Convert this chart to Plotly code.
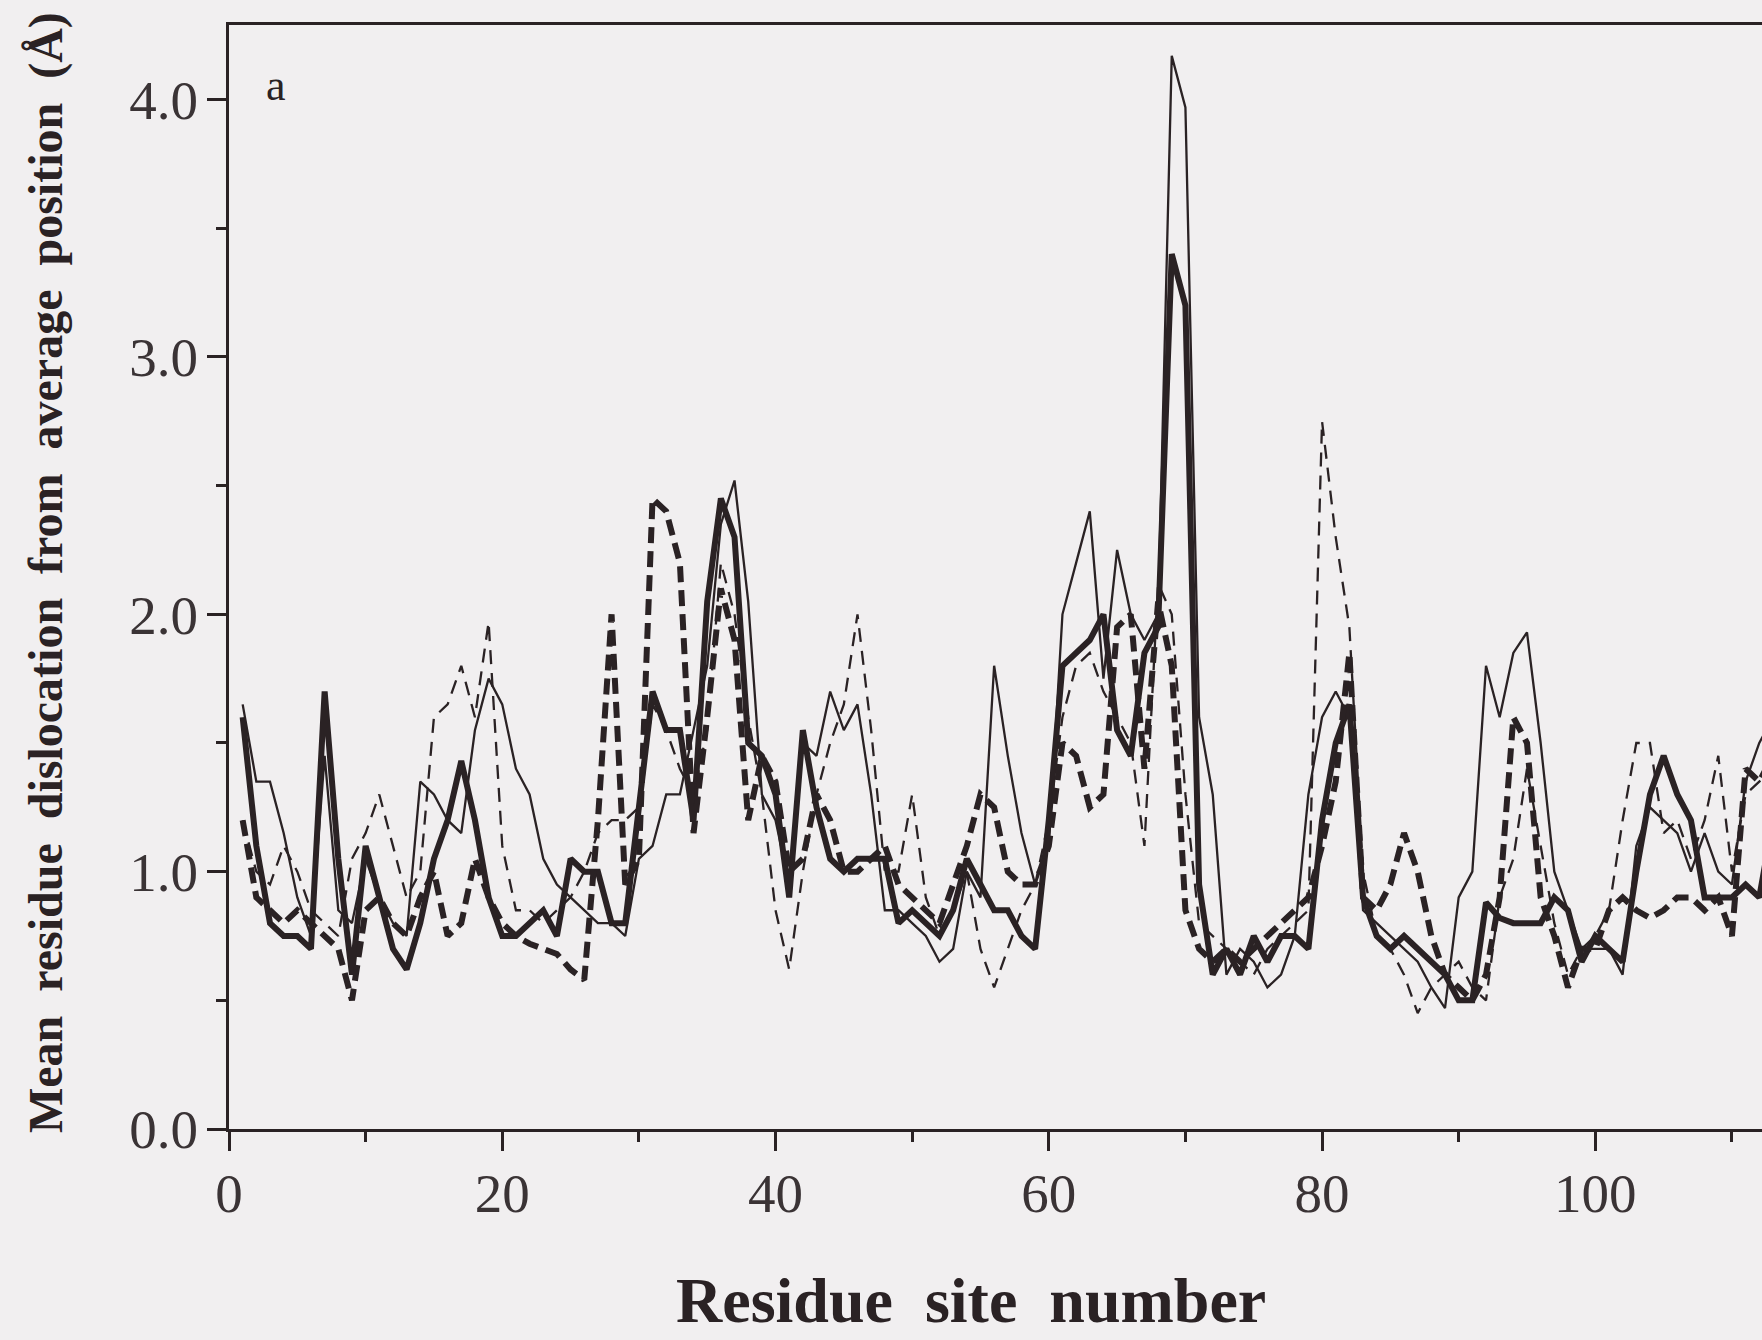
import plotly.graph_objects as go

residues = list(range(1, 114))

thin_solid = [
    1.65, 1.35, 1.35, 1.15, 0.90, 0.75, 1.45, 0.85, 0.80, 1.05,
    0.90, 0.80, 0.75, 1.35, 1.30, 1.20, 1.15, 1.55, 1.75, 1.65,
    1.40, 1.30, 1.05, 0.95, 0.90, 0.85, 0.80, 0.80, 0.75, 1.05,
    1.10, 1.30, 1.30, 1.55, 1.80, 2.35, 2.52, 2.05, 1.30, 1.20,
    0.95, 1.50, 1.45, 1.70, 1.55, 1.65, 1.30, 0.85, 0.85, 0.80,
    0.75, 0.65, 0.70, 1.00, 0.90, 1.80, 1.45, 1.15, 0.95, 1.10,
    2.00, 2.20, 2.40, 1.75, 2.25, 2.00, 1.90, 2.00, 4.17, 3.97,
    1.60, 1.30, 0.60, 0.70, 0.65, 0.55, 0.60, 0.75, 1.30, 1.60,
    1.70, 1.60, 0.85, 0.80, 0.75, 0.70, 0.65, 0.55, 0.47, 0.90,
    1.00, 1.80, 1.60, 1.85, 1.93, 1.50, 1.00, 0.85, 0.70, 0.70,
    0.70, 0.60, 1.10, 1.25, 1.20, 1.15, 1.00, 1.15, 1.00, 0.95,
    1.35, 1.50, 1.60,
]

thick_solid = [
    1.60, 1.10, 0.80, 0.75, 0.75, 0.70, 1.70, 1.05, 0.60, 1.10,
    0.90, 0.70, 0.62, 0.80, 1.05, 1.20, 1.43, 1.20, 0.90, 0.75,
    0.75, 0.80, 0.85, 0.75, 1.05, 1.00, 1.00, 0.80, 0.80, 1.25,
    1.70, 1.55, 1.55, 1.20, 2.05, 2.45, 2.30, 1.50, 1.45, 1.30,
    0.90, 1.55, 1.25, 1.05, 1.00, 1.05, 1.05, 1.05, 0.80, 0.85,
    0.80, 0.75, 0.85, 1.05, 0.95, 0.85, 0.85, 0.75, 0.70, 1.20,
    1.80, 1.85, 1.90, 2.00, 1.55, 1.45, 1.85, 1.95, 3.40, 3.20,
    0.95, 0.60, 0.70, 0.60, 0.75, 0.65, 0.75, 0.75, 0.70, 1.20,
    1.50, 1.65, 0.90, 0.75, 0.70, 0.75, 0.70, 0.65, 0.60, 0.50,
    0.50, 0.88, 0.82, 0.80, 0.80, 0.80, 0.90, 0.85, 0.65, 0.75,
    0.70, 0.65, 1.00, 1.30, 1.45, 1.30, 1.20, 0.90, 0.90, 0.90,
    0.95, 0.90, 1.20,
]

thin_dashed = [
    1.20, 1.00, 0.95, 1.10, 1.00, 0.85, 0.80, 0.75, 1.05, 1.15,
    1.30, 1.10, 0.90, 1.00, 1.60, 1.65, 1.80, 1.60, 1.97, 1.10,
    0.85, 0.85, 0.80, 0.85, 0.90, 1.00, 1.15, 1.20, 1.20, 1.25,
    1.65, 1.55, 1.40, 1.30, 1.55, 2.20, 2.00, 1.60, 1.30, 0.85,
    0.62, 1.00, 1.30, 1.50, 1.65, 2.00, 1.55, 1.00, 1.00, 1.30,
    0.90, 0.75, 0.85, 1.00, 0.70, 0.55, 0.70, 0.85, 0.95, 1.20,
    1.60, 1.80, 1.85, 1.70, 1.60, 1.50, 1.10, 2.12, 2.00, 1.30,
    0.80, 0.75, 0.70, 0.65, 0.60, 0.70, 0.75, 0.80, 0.85, 2.75,
    2.30, 1.95, 1.00, 0.75, 0.70, 0.60, 0.45, 0.55, 0.60, 0.65,
    0.55, 0.50, 0.90, 1.05, 1.40, 1.10, 0.80, 0.60, 0.70, 0.75,
    0.85, 1.20, 1.50, 1.50, 1.15, 1.20, 1.05, 1.20, 1.45, 1.00,
    1.30, 1.35, 1.40,
]

thick_dashed = [
    1.20, 0.90, 0.85, 0.80, 0.85, 0.80, 0.75, 0.70, 0.50, 0.85,
    0.90, 0.80, 0.75, 0.90, 1.00, 0.75, 0.80, 1.05, 0.90, 0.80,
    0.75, 0.72, 0.70, 0.68, 0.62, 0.58, 1.20, 2.00, 0.95, 1.05,
    2.45, 2.40, 2.20, 1.15, 1.60, 2.10, 1.90, 1.20, 1.45, 1.35,
    1.00, 1.05, 1.30, 1.20, 1.00, 1.00, 1.05, 1.10, 0.95, 0.90,
    0.85, 0.80, 0.95, 1.10, 1.30, 1.25, 1.00, 0.95, 0.95, 1.10,
    1.50, 1.45, 1.25, 1.30, 1.95, 2.00, 1.40, 2.05, 1.80, 0.85,
    0.70, 0.65, 0.70, 0.65, 0.70, 0.75, 0.80, 0.85, 0.90, 1.10,
    1.35, 1.85, 0.90, 0.85, 0.95, 1.15, 1.00, 0.75, 0.60, 0.55,
    0.50, 0.60, 0.90, 1.60, 1.50, 0.90, 0.75, 0.55, 0.70, 0.70,
    0.85, 0.90, 0.85, 0.82, 0.85, 0.90, 0.90, 0.85, 0.90, 0.75,
    1.40, 1.35, 1.45,
]

x_tickvals = [0, 20, 40, 60, 80, 100]
x_ticktext = ["0", "20", "40", "60", "80", "100"]
y_tickvals = [0.0, 1.0, 2.0, 3.0, 4.0]
y_ticktext = ["0.0", "1.0", "2.0", "3.0", "4.0"]

INK = "#2a2224"
BG = "#f1eff0"
SERIF = "Liberation Serif, Times New Roman, serif"

fig = go.Figure()
series = [
    (thin_solid, 2.3, "solid"),
    (thick_solid, 6.0, "solid"),
    (thin_dashed, 2.3, "14px,9px"),
    (thick_dashed, 6.0, "16px,8px"),
]
for vals, w, dash in series:
    fig.add_trace(go.Scatter(
        x=residues, y=vals, mode="lines",
        line=dict(color=INK, width=w, dash=dash),
        showlegend=False, cliponaxis=True,
    ))

L, T, R, B = 229, 25, 0, 211
W, H = 1762, 1340
pw, ph = W - L - R, H - T - B

axis_common = dict(
    showline=True, linecolor=INK, linewidth=3,
    ticks="outside", ticklen=19, tickwidth=2.5, tickcolor=INK,
    showgrid=False, zeroline=False,
    tickfont=dict(family=SERIF, size=55, color="#3a3335"),
)

fig.update_xaxes(
    range=[0, 112.2], tickvals=x_tickvals, ticktext=x_ticktext,
    mirror=True,
    minor=dict(ticks="outside", ticklen=10, tickwidth=2.5, tickcolor=INK, dtick=10, tick0=0),
    ticklabelstandoff=-5,
    **axis_common,
)
fig.update_yaxes(
    range=[0, 4.29], tickvals=y_tickvals, ticktext=y_ticktext,
    minor=dict(ticks="outside", ticklen=10, tickwidth=2.5, tickcolor=INK, dtick=0.5, tick0=0),
    ticklabelstandoff=-2,
    **axis_common,
)

def px_to_paper_x(px):
    return (px - L) / pw

def px_to_paper_y(py):
    return (H - B - py) / ph

NB = "\u00a0"
fig.add_annotation(
    text=f"Mean{NB*2}residue{NB*2}dislocation{NB*2}from{NB*2}average{NB*2}position{NB*2}(Å)",
    textangle=-90, xref="paper", yref="paper",
    x=px_to_paper_x(46), y=px_to_paper_y(573),
    xanchor="center", yanchor="middle", showarrow=False,
    font=dict(family=SERIF, size=48, color=INK, weight="bold"),
)
fig.add_annotation(
    text=f"Residue{NB*2}site{NB*2}number",
    xref="paper", yref="paper",
    x=px_to_paper_x(971), y=px_to_paper_y(1300),
    xanchor="center", yanchor="middle", showarrow=False,
    font=dict(family=SERIF, size=64, color=INK, weight="bold"),
)
fig.add_annotation(
    text="a", xref="paper", yref="paper",
    x=px_to_paper_x(276), y=px_to_paper_y(86),
    xanchor="center", yanchor="middle", showarrow=False,
    font=dict(family=SERIF, size=44, color=INK),
)

fig.update_layout(
    width=W, height=H,
    margin=dict(l=L, r=R, t=T, b=B, pad=0),
    paper_bgcolor=BG, plot_bgcolor=BG,
)

fig.write_html(
    "out.html",
    config={"displayModeBar": False},
    post_script="document.body.style.margin='0px';document.body.style.background='" + BG + "';",
)
